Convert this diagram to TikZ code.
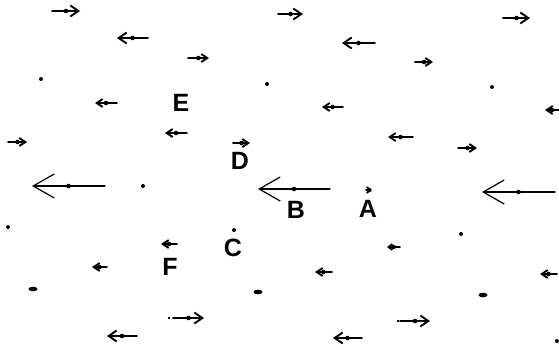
\documentclass[tikz,border=0pt]{standalone}
\usepackage{fontspec}
\setmainfont{Liberation Sans}
\usetikzlibrary{arrows.meta,calc}
\begin{document}
\begin{tikzpicture}[x=1pt,y=-1pt,
  lab/.style={font=\fontsize{25}{25}\selectfont\bfseries, inner sep=0pt},
  big/.style={line width=1.2pt, line cap=round, -{Straight Barb[length=21pt,width=24pt]}},
  med/.style={line width=1.9pt, line cap=round, -{Straight Barb[length=8pt,width=11pt]}},
  sml/.style={line width=1.9pt, line cap=round, -{Straight Barb[length=6pt,width=8pt]}},
  tiny/.style={line width=1.6pt, line cap=round, -{Straight Barb[length=4pt,width=6pt]}}]
\useasboundingbox (0,0) rectangle (559,349);
% field arrows: tail x / tip x / y / style
\foreach \a/\b/\y/\s in {
  52/80/11/med, 278/303/14/med, 503/530/18/med,
  148/117/38/med, 375/342/43/med,
  188/209/58/sml, 415/433/62/sml,
  117/95/103/sml, 343/322/107/sml, 559/545/110/sml,
  187/165/133/sml, 413/388/137/sml,
  8/27/142/sml, 458/477/148/sml, 233/250/143/sml,
  105/32/186/big, 330/258/189/big, 555/482/192/big,
  177/161/244/sml, 400/387/247/tiny, 107/92/267/sml,
  332/315/272/sml, 557/540/274/sml,
  173/204/318/med, 400/430/321/med,
  137/107/336/med, 362/333/338/med,
  366/372/190/tiny}{
  \draw[\s] (\a,\y) coordinate (t) -- (\b,\y) coordinate (h);
  \fill ($(t)!0.5!(h)$) circle (2.3pt);
}
% isolated dots and blobs
\foreach \x/\y in {41/79, 267/84, 492/87, 143/186, 8/227, 461/234, 234/230, 557/341}{
  \fill (\x,\y) circle (2pt);
}
\foreach \x/\y in {33/289, 258/292, 483/295}{
  \fill (\x,\y) ellipse (4.5pt and 2.3pt);
}
% dashed tails
\draw[line width=1.2pt] (168,318) -- (170,318);
\draw[line width=1.2pt] (397,321) -- (399,321);
% labels
\node[lab] (E) at (181,103) {E};
\node[lab] (D) at (240,161) {D};
\node[lab] (B) at (296,210) {B};
\node[lab] (A) at (368,209) {A};
\node[lab] (C) at (233,248) {C};
\node[lab] (F) at (170,267) {F};
\end{tikzpicture}
\end{document}
